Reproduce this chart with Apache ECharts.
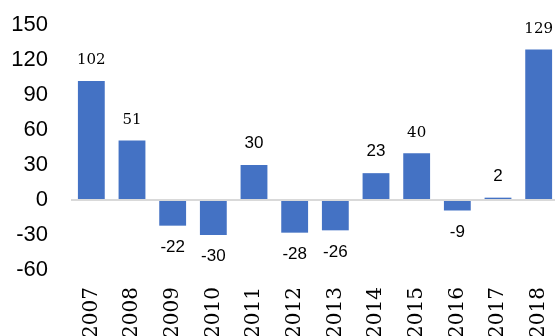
<!DOCTYPE html>
<html><head><meta charset="utf-8">
<script src="https://cdn.jsdelivr.net/npm/echarts@6/dist/echarts.min.js"></script>
<style>html,body{margin:0;padding:0;background:#fff}#c{width:555px;height:336px}</style>
</head><body><div id="c"></div>
<script>
const categories = ['2007','2008','2009','2010','2011','2012','2013','2014','2015','2016','2017','2018'];
const values = [102, 51, -22, -30, 30, -28, -26, 23, 40, -9, 2, 129];
const yTicks = { min: -60, max: 150, interval: 30 };
const serifLabelYears = ['2007','2008','2015','2018'];

const chart = echarts.init(document.getElementById('c'), null, {renderer:'canvas'});
chart.setOption({
  animation: false,
  grid: { left: 71, right: -4, top: 25, bottom: 66, containLabel: false, outerBoundsMode: 'none' },
  xAxis: {
    type: 'category', data: categories, position: 'bottom',
    axisLine: { show: false, onZero: false }, axisTick: { show: false },
    axisLabel: { rotate: 90, margin: 17, fontSize: 20, color: '#000', fontFamily: 'DejaVu Serif' }
  },
  yAxis: {
    type: 'value', min: yTicks.min, max: yTicks.max, interval: yTicks.interval,
    axisLine: { show: false }, axisTick: { show: false }, splitLine: { show: false },
    axisLabel: { margin: 23, fontSize: 22, color: '#000', fontFamily: 'Liberation Sans' }
  },
  series: [{
    type: 'bar', barCategoryGap: '34%',
    itemStyle: { color: '#4472C4' },
    data: values.map((v, i) => {
      const serif = serifLabelYears.includes(categories[i]);
      return {
        value: v,
        label: {
          show: true, position: v >= 0 ? 'top' : 'bottom', distance: 13,
          fontSize: serif ? 15 : 17, color: '#000',
          fontFamily: serif ? 'DejaVu Serif' : 'Liberation Sans'
        }
      };
    }),
    markLine: {
      silent: true, symbol: 'none', label: { show: false },
      lineStyle: { color: '#d9d9d9', width: 2, type: 'solid' },
      data: [{ yAxis: 0 }]
    }
  }]
});
</script></body></html>
